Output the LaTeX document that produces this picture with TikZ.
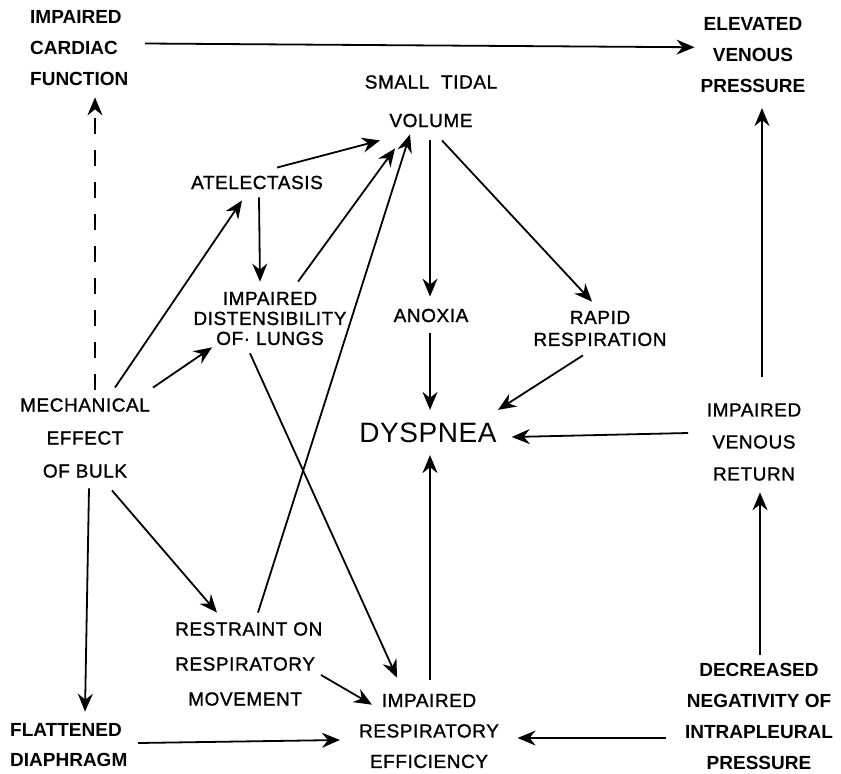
\documentclass[tikz,border=0pt]{standalone}
\usepackage{fontspec}
\setmainfont{Liberation Sans}
\newfontfamily\medfont{Liberation Sans}[FakeBold=1.2,LetterSpace=3]
\newfontfamily\thinfont{Liberation Sans}[LetterSpace=2]
\usetikzlibrary{arrows.meta}

\begin{document}
\begin{tikzpicture}[x=1pt,y=-1pt,
    lbl/.style={inner sep=0pt,align=center,font=\fontsize{19}{31}\selectfont\medfont},
    heavy/.style={lbl,font=\fontsize{19}{31}\selectfont\bfseries},
    arr/.style={-{Stealth[length=18pt,width=15pt,inset=6pt]},line width=1.8pt},
    dasharr/.style={arr,dash pattern=on 16pt off 16pt}]

     \useasboundingbox (0,0) rectangle (841,774);

     %Labels
     \node[heavy,anchor=west,align=left] (cardiac) at (30,48.5) {IMPAIRED\\CARDIAC\\FUNCTION};
     \node[heavy] (elev) at (753,55.25) {ELEVATED\\VENOUS\\PRESSURE};
     \node[lbl,font=\fontsize{19}{38.5}\selectfont\medfont] (tidal) at (431,101.25) {SMALL~ TIDAL\\VOLUME};
     \node[lbl] (atel) at (257,182.5) {ATELECTASIS};
     \node[lbl,font=\fontsize{19}{20}\selectfont\medfont] (dist) at (270,318.5) {IMPAIRED\\DISTENSIBILITY\\OF· LUNGS};
     \node[lbl] (anox) at (431,315.5) {ANOXIA};
     \node[lbl,font=\fontsize{19}{22}\selectfont\medfont] (rapid) at (600,328.5) {RAPID\\RESPIRATION};
     \node[lbl,font=\fontsize{19}{33}\selectfont\medfont] (mech) at (85,438) {MECHANICAL\\EFFECT\\OF BULK};
     \node[lbl,font=\fontsize{28}{30}\selectfont\thinfont] (dysp) at (428,433) {DYSPNEA};
     \node[lbl,font=\fontsize{19}{32}\selectfont\medfont] (venret) at (754,442) {IMPAIRED\\VENOUS\\RETURN};
     \node[lbl,font=\fontsize{19}{35}\selectfont\medfont,anchor=west,align=left] (restr) at (175,664) {RESTRAINT ON\\RESPIRATORY\\\hspace*{13pt}MOVEMENT};
     \node[heavy,font=\fontsize{19}{30}\selectfont\bfseries,anchor=west,align=left] (flat) at (10,745.5) {FLATTENED\\DIAPHRAGM};
     \node[lbl,font=\fontsize{19}{30.5}\selectfont\medfont] (respeff) at (429,731) {IMPAIRED\\RESPIRATORY\\EFFICIENCY};
     \node[heavy] (decr) at (759,716) {DECREASED\\NEGATIVITY OF\\INTRAPLEURAL\\PRESSURE};

     %Top
     \draw[arr] ([shift={(115,-5)}]cardiac.west) -- ([shift={(-6,-8)}]elev.west);
     \draw[dasharr] ([shift={(10,-8)}]mech.north) -- ([shift={(65,11)}]cardiac.south west);

     %Left side
     \draw[arr] ([shift={(20,-8)}]atel.north) -- ([shift={(-51,13)}]tidal.south);
     \draw[arr] ([shift={(2,8)}]atel.south) -- ([shift={(-10,-10)}]dist.north);
     \draw[arr] ([shift={(28,-10)}]dist.north) -- ([shift={(-36,21)}]tidal.south);
     \draw[arr] ([shift={(30,-10.5)}]mech.north) -- ([shift={(-15,11)}]atel.south);
     \draw[arr] ([shift={(68,-10.5)}]mech.north) -- ([shift={(-58,2)}]dist.south);
     \draw[arr] ([shift={(83,-9.5)}]restr.north west) -- ([shift={(-21,7)}]tidal.south);
     \draw[arr] ([shift={(-20,8)}]dist.south) -- ([shift={(-32,-16)}]respeff.north);
     \draw[arr] ([shift={(27,12.5)}]mech.south) -- ([shift={(42,-9.5)}]restr.north west);
     \draw[arr] ([shift={(4,10.5)}]mech.south) -- ([shift={(75,-12)}]flat.north west);
     \draw[arr] ([shift={(146,11)}]restr.west) -- ([shift={(-57,11)}]respeff.north);
     \draw[arr] ([shift={(128,-2.5)}]flat.west) -- ([shift={(-19,9)}]respeff.west);

     %Middle
     \draw[arr] ([shift={(1,-14)}]respeff.north) -- ([shift={(2,12)}]dysp.south);
     \draw[arr] ([shift={(-1,11)}]anox.south) -- ([shift={(2,-13)}]dysp.north);
     \draw[arr] ([shift={(-1,13)}]tidal.south) -- ([shift={(-1,-12)}]anox.north);
     \draw[arr] ([shift={(11,13)}]tidal.south) -- ([shift={(-8,-9)}]rapid.north);
     \draw[arr] ([shift={(-17,9)}]rapid.south) -- ([shift={(70,-13)}]dysp.north);

     %Right side
     \draw[arr] ([shift={(-18.5,-9)}]venret.west) -- ([shift={(15,4)}]dysp.east);
     \draw[arr] ([shift={(8,-26.5)}]venret.north) -- ([shift={(9,15)}]elev.south);
     \draw[arr] ([shift={(1,-8)}]decr.north) -- ([shift={(6,11.5)}]venret.south);
     \draw[arr] ([shift={(-18.5,22)}]decr.west) -- ([shift={(18.5,7)}]respeff.east);

\end{tikzpicture}
\end{document}
